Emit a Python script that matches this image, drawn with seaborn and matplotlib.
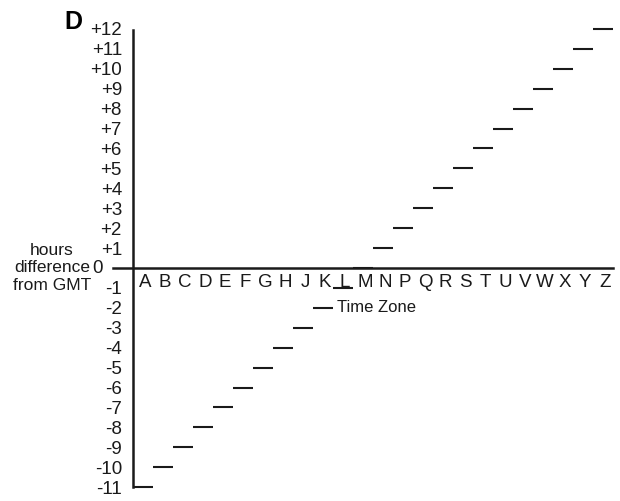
import matplotlib

matplotlib.use("Agg")
import matplotlib.pyplot as plt
import numpy as np
import pandas as pd
import seaborn as sns

# --- data ---
zones = list("ABCDEFGHJKLMNPQRSTUVWXYZ")
offsets = [-11, -10, -9, -8, -7, -6, -5, -4, -3, -2, -1, 0,
           1, 2, 3, 4, 5, 6, 7, 8, 9, 10, 11, 12]
ytick_vals = list(range(-11, 13))
ytick_labels = [("+%d" % v if v > 0 else ("" if v == 0 else "%d" % v)) for v in ytick_vals]

sns.set_style("white")
plt.rcParams["font.family"] = ["Liberation Sans", "DejaVu Sans"]

INK = "#1a1a1a"

df = pd.DataFrame({"zone": zones, "offset": offsets})
df["pos"] = np.arange(len(df))

fig = plt.figure(figsize=(6.2, 5.01), dpi=100)
# axes placed so that one zone = 20 px and one hour = ~20 px
ax = fig.add_axes([133 / 620, (501 - 491.1) / 501, 480 / 620, 466.1 / 501])

# one short horizontal bar per zone
ax.hlines(df["offset"], df["pos"] - 0.5, df["pos"] + 0.5, color=INK, linewidth=1.5)

ax.set_xlim(-0.5, 23.5)
ax.set_ylim(-11.2, 12.2)

# axis lines
for side in ["top", "right"]:
    ax.spines[side].set_visible(False)
ax.spines["bottom"].set_position(("data", 0))
ax.spines["bottom"].set_bounds(-1.5, 23.5)
ax.spines["left"].set_position(("data", -0.5))
ax.spines["left"].set_bounds(-11, 11.95)
for side in ["bottom", "left"]:
    ax.spines[side].set_linewidth(1.8)
    ax.spines[side].set_color(INK)

ax.set_xticks(df["pos"] + 0.1)
ax.set_xticklabels(df["zone"], fontsize=13.5, color=INK)
ax.set_yticks(ytick_vals)
ax.set_yticklabels(ytick_labels, fontsize=13.5, color=INK)
ax.tick_params(axis="x", length=0, pad=4)
ax.tick_params(axis="y", length=0, pad=8)
ax.grid(False)

# zero label sits left of the extended x axis
ax.text(-2.0, 0, "0", ha="right", va="center", fontsize=13.5, color=INK, clip_on=False)

ax.text(9.7, -2, "Time Zone", ha="left", va="center", fontsize=12, color=INK)

fig.text(52 / 620, 1 - 268 / 501, "hours\ndifference\nfrom GMT", ha="center", va="center",
         multialignment="center", fontsize=12.5, linespacing=1.2, color=INK)
fig.text(73.5 / 620, 1 - 22 / 501, "D", ha="center", va="center", fontsize=18,
         fontweight="bold", color="black")

fig.savefig("out.png", dpi=100)
